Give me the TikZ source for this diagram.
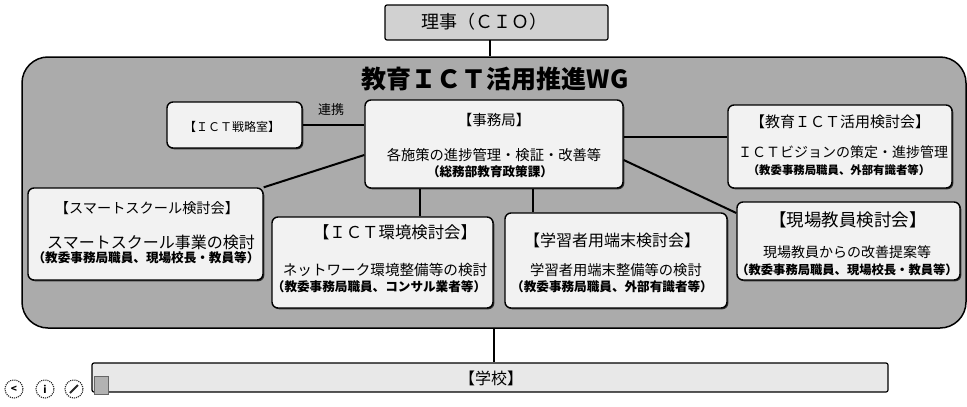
\documentclass[tikz,border=0pt]{standalone}
\usepackage{fontspec}
\setmainfont{Noto Sans CJK JP}
\usetikzlibrary{shadows}
\newcommand{\fs}[1]{\fontsize{#1pt}{#1pt}\selectfont}
\tikzset{
  box/.style={draw=black, line width=1.4pt, fill=black!5, rounded corners=6pt,
    inner sep=0pt, drop shadow={shadow xshift=1.3pt, shadow yshift=-1.3pt, fill=black!80, opacity=1}},
  wgbox/.style={draw=black, line width=1.5pt, fill=black!33, rounded corners=26pt, inner sep=0pt},
  topbox/.style={draw=black, line width=1.2pt, fill=black!18, rounded corners=2pt, inner sep=0pt},
  schoolbox/.style={draw=black, line width=1.2pt, fill=black!9, rounded corners=2pt, inner sep=0pt},
  conn/.style={draw=black, line width=2pt},
  txt/.style={inner sep=0pt, text=black},
  icon/.style={draw=black!85, densely dotted, line width=1.1pt, circle, minimum size=18pt, inner sep=0pt}
}
\begin{document}
\begin{tikzpicture}[x=1pt,y=-1pt]
\useasboundingbox (0,0) rectangle (967,407);
% top box
\node[topbox, minimum width=223pt, minimum height=35pt] (cio) at (496.5,22.5) {};
\node[txt] (ciot) at (484,22) {\fs{18}理事（ＣＩＯ）};
% WG
\node[wgbox, minimum width=944pt, minimum height=271pt] (wg) at (494,192.5) {};
\node[txt] (title) at (495,79) {\fs{25}\bfseries 教育ＩＣＴ活用推進WG};
% connector cio -> wg
\coordinate (c1) at (490,40);
\draw[conn] (c1) -- (c1 |- wg.north);
% school
\node[schoolbox, minimum width=796pt, minimum height=29pt] (school) at (490,377.5) {};
\node[txt] (schoolt) at (491,378) {\fs{16}【学校】};
\draw[conn] (wg.south) -- (wg.south |- school.north);
% inner boxes
\node[box, minimum width=135pt, minimum height=46pt] (ict) at (234.5,125) {};
\node[box, minimum width=258pt, minimum height=88pt] (jim) at (494,144) {};
\node[box, minimum width=224pt, minimum height=83pt] (vis) at (840,146.5) {};
\node[box, minimum width=235pt, minimum height=92pt] (smart) at (145.5,234) {};
\node[box, minimum width=221pt, minimum height=91pt] (env) at (382.5,262.5) {};
\node[box, minimum width=222pt, minimum height=95pt] (term) at (616,260.5) {};
\node[box, minimum width=223pt, minimum height=78pt] (gen) at (848.5,241) {};
% connectors
\draw[conn] (ict.east) -- (ict.east -| jim.west);
\node[txt] (renkei) at (331,110) {\fs{13}連携};
\draw[conn] ([yshift=7pt]jim.east) -- ([yshift=7pt]jim.east -| vis.west);
\draw[conn] ([yshift=-16pt]jim.east) -- ([yshift=28pt]gen.west);
\draw[conn] ([yshift=-11pt]jim.west) -- (smart.north east);
\draw[conn] ([xshift=-74pt]jim.south) -- ([xshift=-74pt]jim.south |- env.north);
\draw[conn] ([xshift=39pt]jim.south) -- ([xshift=39pt]jim.south |- term.north);
% texts
\node[txt] (ictt) at (232,127) {\fs{12}【ＩＣＴ戦略室】};
\node[txt] (jim1) at (494,120) {\fs{14.5}【事務局】};
\node[txt] (jim2) at (494,155) {\fs{14.3}各施策の進捗管理・検証・改善等};
\node[txt] (jim3) at (490,172) {\fs{12.6}\bfseries （総務部教育政策課）};
\node[txt] (vis1) at (840,122) {\fs{15}【教育ＩＣＴ活用検討会】};
\node[txt] (vis2) at (843,152) {\fs{14}ＩＣＴビジョンの策定・進捗管理};
\node[txt] (vis3) at (839,170) {\fs{11.4}\bfseries （教委事務局職員、外部有識者等）};
\node[txt] (sm1) at (147,208) {\fs{14.2}【スマートスクール検討会】};
\node[txt] (sm2) at (151,242) {\fs{16}スマートスクール事業の検討};
\node[txt] (sm3) at (146,258) {\fs{12.6}\bfseries （教委事務局職員、現場校長・教員等）};
\node[txt] (env1) at (395,232) {\fs{16.4}【ＩＣＴ環境検討会】};
\node[txt] (env2) at (385,270) {\fs{14.6}ネットワーク環境整備等の検討};
\node[txt] (env3) at (379,287) {\fs{12.6}\bfseries （教委事務局職員、コンサル業者等）};
\node[txt] (term1) at (612,240) {\fs{16}【学習者用端末検討会】};
\node[txt] (term2) at (616,270) {\fs{14.3}学習者用端末整備等の検討};
\node[txt] (term3) at (612,287) {\fs{12.6}\bfseries （教委事務局職員、外部有識者等）};
\node[txt] (gen1) at (848,220) {\fs{17.5}【現場教員検討会】};
\node[txt] (gen2) at (847,252) {\fs{14}現場教員からの改善提案等};
\node[txt] (gen3) at (847,270) {\fs{12.3}\bfseries （教委事務局職員、現場校長・教員等）};
% bottom-left icons
\node[icon] (ic1) at (14,389) {\fs{10}\bfseries\textless};
\node[icon] (ic2) at (45,389) {\fs{10}\bfseries i};
\node[icon] (ic3) at (74,389) {};
\draw[black!85, line width=1.8pt] ([shift={(-4pt,-4pt)}]ic3.center) -- ([shift={(4pt,4pt)}]ic3.center);
\node[draw=black!60, fill=black!30, minimum width=14pt, minimum height=18pt, inner sep=0pt] (ic4) at (101,385) {};
\end{tikzpicture}
\end{document}
